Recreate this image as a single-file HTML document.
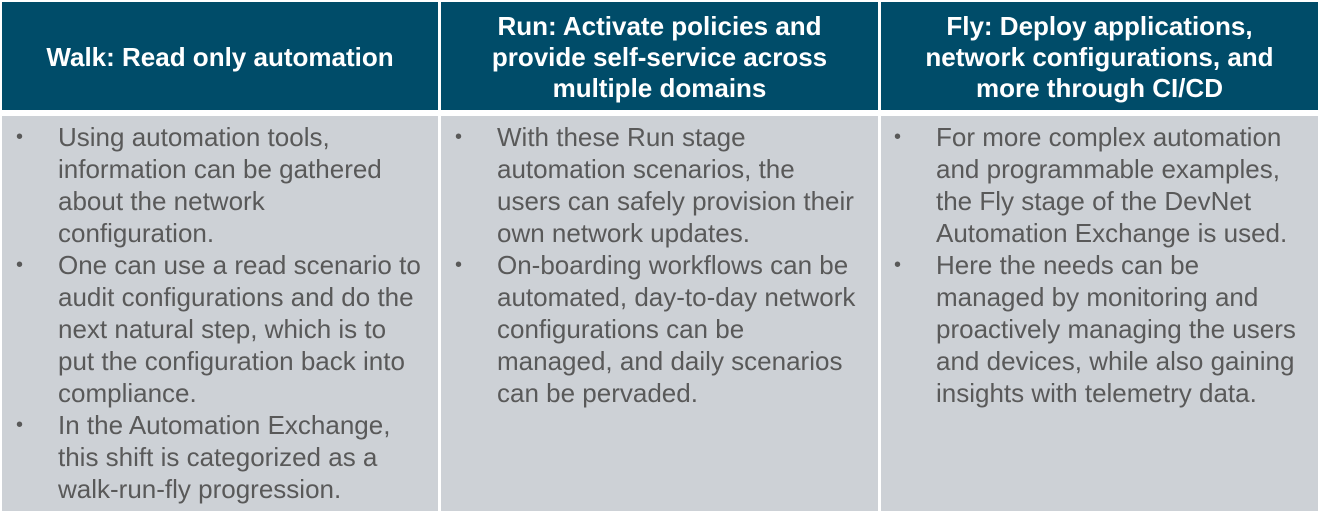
<!DOCTYPE html>
<html><head><style>
body{margin:0;width:1324px;height:511px;background:#fff;position:relative;overflow:hidden;font-family:"Liberation Sans",Arial,sans-serif}
.h{position:absolute;top:2px;height:108px;background:#004c69;color:#fff;font-weight:bold;font-size:26px;line-height:31px;display:flex;align-items:center;justify-content:center;text-align:center;padding-top:3px;box-sizing:border-box}
.b{position:absolute;top:116px;height:395px;background:#cdd1d6}
.t{position:absolute;color:#595959;font-size:26px;line-height:32px;white-space:nowrap}
.d{position:absolute;color:#595959;font-size:20px;line-height:32px}
</style></head><body>
<div class="h" style="left:2px;width:436px">Walk: Read only automation</div>
<div class="h" style="left:441px;width:437px">Run: Activate policies and<br>provide self-service across<br>multiple domains</div>
<div class="h" style="left:881px;width:437px">Fly: Deploy applications,<br>network configurations, and<br>more through CI/CD</div>
<div class="b" style="left:2px;width:436px"></div>
<div class="b" style="left:441px;width:437px"></div>
<div class="b" style="left:881px;width:437px"></div>

<div class="d" style="left:16px;top:121px">•</div>
<div class="d" style="left:16px;top:249px">•</div>
<div class="d" style="left:16px;top:409px">•</div>
<div class="t" style="left:58px;top:121px">Using automation tools,<br>information can be gathered<br>about the network<br>configuration.<br>One can use a read scenario to<br>audit configurations and do the<br>next natural step, which is to<br>put the configuration back into<br>compliance.<br>In the Automation Exchange,<br>this shift is categorized as a<br>walk-run-fly progression.</div>

<div class="d" style="left:455px;top:121px">•</div>
<div class="d" style="left:455px;top:249px">•</div>
<div class="t" style="left:497px;top:121px">With these Run stage<br>automation scenarios, the<br>users can safely provision their<br>own network updates.<br>On-boarding workflows can be<br>automated, day-to-day network<br>configurations can be<br>managed, and daily scenarios<br>can be pervaded.</div>

<div class="d" style="left:894px;top:121px">•</div>
<div class="d" style="left:894px;top:249px">•</div>
<div class="t" style="left:936px;top:121px">For more complex automation<br>and programmable examples,<br>the Fly stage of the DevNet<br>Automation Exchange is used.<br>Here the needs can be<br>managed by monitoring and<br>proactively managing the users<br>and devices, while also gaining<br>insights with telemetry data.</div>
</body></html>
